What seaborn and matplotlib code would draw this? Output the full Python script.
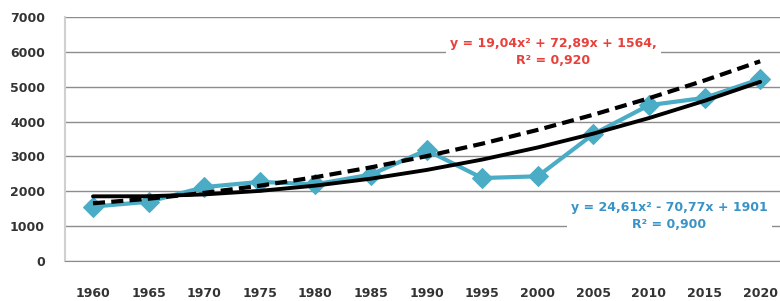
import numpy as np
import pandas as pd
import matplotlib
matplotlib.use("Agg")
import matplotlib.pyplot as plt
import seaborn as sns

# data
years = ["1960", "1965", "1970", "1975", "1980", "1985", "1990",
         "1995", "2000", "2005", "2010", "2015", "2020"]
values = [1560, 1700, 2120, 2270, 2200, 2480, 3180,
          2380, 2430, 3640, 4470, 4680, 5220]

# polynomial trend coefficients (Excel style, x = 1..n)
trend_solid = [24.61, -70.77, 1901]
trend_dashed = [19.04, 72.89, 1564]
label_solid = "y = 24,61x² - 70,77x + 1901\nR² = 0,900"
label_dashed = "y = 19,04x² + 72,89x + 1564,\nR² = 0,920"

sns.set_style("white")
plt.rcParams['font.family'] = ['DejaVu Sans']

df = pd.DataFrame({"pos": np.arange(len(years)), "value": values})
xn = np.arange(1, len(years) + 1)
df["solid"] = np.polyval(trend_solid, xn)
df["dashed"] = np.polyval(trend_dashed, xn)

fig = plt.figure(figsize=(7.8, 3.01), dpi=100)
ax = fig.add_axes([65.2 / 780, 40 / 301, 0.9266, 244 / 301])

sns.lineplot(data=df, x="pos", y="value", ax=ax, color="#4bacc6", lw=3.0,
             marker="D", markersize=10, markeredgecolor="#4bacc6", zorder=3)
sns.lineplot(data=df, x="pos", y="dashed", ax=ax, color="black", lw=3.0,
             zorder=4).lines[-1].set_dashes([2.9, 1.5])
sns.lineplot(data=df, x="pos", y="solid", ax=ax, color="black", lw=2.8, zorder=4)

ax.set_xlim(-0.5, 12.5)
ax.set_ylim(0, 7000)
ax.set_yticks(range(0, 7001, 1000))
ax.set_xticks(np.arange(len(years)))
ax.set_xticklabels(years)
ax.set_xticks(np.arange(-0.5, len(years), 1), minor=True)
ax.grid(axis="y", color="#8c8c8c", lw=1)
ax.set_axisbelow(True)
ax.set_xlabel("")
ax.set_ylabel("")

ax.tick_params(axis="x", which="major", length=0, pad=18.5, labelsize=9, labelcolor="#333333")
ax.tick_params(axis="x", which="minor", length=3, color="#bfbfbf", direction="out")
ax.tick_params(axis="y", length=6.5, color="#8c8c8c", width=1, pad=8, labelsize=9,
               labelcolor="#333333")
for lab in ax.get_xticklabels() + ax.get_yticklabels():
    lab.set_fontweight("bold")
for s in ["top", "right"]:
    ax.spines[s].set_visible(False)
ax.spines["left"].set_color("#d0d0d0")
ax.spines["left"].set_linewidth(1.5)
ax.spines["bottom"].set_color("#8c8c8c")

ax.text(553 / 780, 1 - 52 / 301, label_dashed, transform=fig.transFigure, ha="center",
        va="center", color="#e8413c", fontsize=9, fontweight="bold", linespacing=1.3,
        bbox=dict(facecolor="white", edgecolor="none", pad=3), zorder=5)
ax.text(669 / 780, 1 - 216 / 301, label_solid, transform=fig.transFigure, ha="center",
        va="center", color="#3a93c6", fontsize=9, fontweight="bold", linespacing=1.3,
        bbox=dict(facecolor="white", edgecolor="none", pad=3), zorder=5)

fig.savefig("out.png", dpi=100)
